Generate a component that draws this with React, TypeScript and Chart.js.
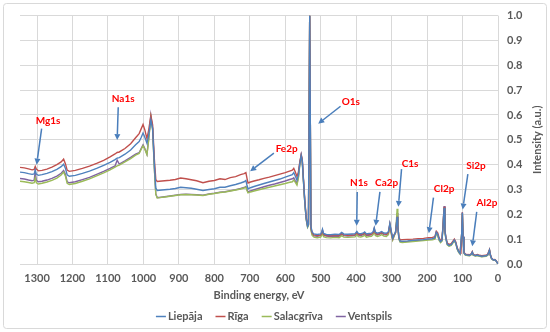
import React, { useEffect, useRef } from "react";
import { Chart, registerables } from "chart.js";

Chart.register(...registerables);

// ---- Data ----
const seriesNames = ["Liepāja", "Rīga", "Salacgrīva", "Ventspils"];
const seriesColors = ["#4f81bd", "#c0504d", "#9bbb59", "#8064a2"];

const xTickValues = [1300, 1200, 1100, 1000, 900, 800, 700, 600, 500, 400, 300, 200, 100, 0];

// Binding energy, eV (descending)
const bindingEnergy = [
  1348, 1336, 1324, 1314, 1308, 1305, 1302, 1296, 1286, 1272,
  1258, 1244, 1232, 1225, 1220, 1215, 1209, 1192, 1172, 1152,
  1132, 1112, 1094, 1080, 1074, 1068, 1052, 1036, 1022, 1012,
  1006, 1001, 996, 990, 985, 979, 974, 969, 965, 961,
  955, 940, 925, 910, 895, 880, 865, 850, 832, 815,
  800, 784, 770, 755, 740, 726, 716, 711, 708, 705,
  698, 688, 674, 660, 645, 630, 615, 600, 590, 580,
  576, 572, 567, 563, 559, 555, 552, 549, 545, 541,
  537, 534.5, 531, 527.5, 524, 519, 510, 500,
  497, 495, 492, 484, 472, 460, 448, 441, 435, 424,
  412, 403, 398, 394, 387, 381, 376, 371, 364, 357,
  352, 349, 346, 340, 333, 328, 322, 315, 309, 305,
  301, 297, 293, 289, 286.5, 284.5, 282.5, 279.5, 276, 270,
  255, 240, 225, 210, 196, 185, 178, 174, 170, 166,
  162, 158, 155, 152, 149.5, 147, 143, 138, 132, 127,
  123, 119, 115, 111, 107, 104.5, 102.5, 100.5, 98.5, 96,
  92, 86, 80, 75, 72.5, 70, 64, 58, 52, 46,
  40, 34, 29, 26, 24, 21.5, 18, 13, 9, 5,
  2, 0,
];

const liepaja = [
  .370, .368, .364, .361, .363, .378, .362, .357, .360, .365,
  .372, .381, .392, .402, .386, .359, .353, .357, .365, .374,
  .385, .397, .409, .420, .426, .428, .442, .459, .480, .493,
  .510, .527, .510, .486, .520, .580, .545, .400, .305, .296,
  .297, .299, .301, .304, .309, .307, .305, .301, .296, .300,
  .303, .309, .309, .315, .320, .326, .331, .336, .318, .302,
  .307, .312, .318, .324, .330, .336, .342, .350, .355, .360,
  .368, .355, .338, .358, .402, .436, .415, .345, .255, .185,
  .152, .160, 1.0, .150, .128, .121, .119, .121,
  .130, .140, .123, .119, .118, .120, .119, .127, .121, .120,
  .121, .122, .131, .123, .122, .124, .129, .121, .123, .124,
  .130, .146, .128, .124, .127, .131, .125, .124, .130, .163,
  .132, .104, .118, .128, .160, .190, .150, .105, .092, .092,
  .093, .095, .097, .098, .101, .102, .106, .128, .120, .100,
  .090, .096, .150, .226, .130, .104, .080, .075, .078, .088,
  .096, .085, .062, .050, .042, .042, .120, .206, .110, .045,
  .038, .036, .035, .040, .048, .037, .034, .036, .033, .031,
  .032, .033, .037, .048, .056, .036, .022, .016, .017, .012,
  .005, .001,
];

const riga = [
  .389, .387, .383, .379, .381, .393, .382, .375, .377, .382,
  .390, .400, .411, .422, .404, .378, .373, .377, .385, .394,
  .405, .417, .431, .443, .449, .451, .465, .484, .508, .525,
  .545, .562, .540, .505, .540, .597, .560, .420, .340, .332,
  .333, .335, .337, .340, .346, .343, .339, .335, .327, .333,
  .336, .343, .340, .348, .352, .360, .364, .368, .346, .326,
  .330, .334, .339, .345, .350, .356, .362, .368, .373, .378,
  .385, .372, .352, .370, .410, .440, .420, .350, .260, .190,
  .155, .160, 1.0, .145, .125, .117, .115, .117,
  .126, .136, .119, .115, .114, .116, .115, .123, .117, .116,
  .117, .118, .127, .119, .118, .120, .125, .117, .119, .120,
  .126, .142, .124, .120, .123, .127, .121, .120, .126, .160,
  .128, .102, .117, .127, .158, .190, .150, .108, .097, .098,
  .099, .100, .102, .103, .106, .107, .110, .132, .125, .105,
  .095, .100, .155, .230, .134, .108, .084, .079, .082, .092,
  .100, .089, .065, .053, .045, .044, .120, .207, .110, .047,
  .040, .038, .037, .042, .050, .039, .036, .038, .035, .033,
  .034, .035, .039, .050, .058, .038, .023, .017, .018, .013,
  .006, .002,
];

const salacgriva = [
  .333, .331, .328, .325, .327, .346, .327, .322, .325, .330,
  .337, .346, .358, .370, .354, .325, .320, .324, .333, .343,
  .355, .367, .379, .390, .395, .398, .411, .424, .438, .445,
  .462, .476, .462, .440, .500, .590, .540, .380, .280, .266,
  .267, .270, .273, .276, .279, .280, .279, .278, .276, .281,
  .284, .288, .290, .294, .298, .302, .306, .310, .296, .286,
  .290, .294, .299, .304, .309, .314, .319, .324, .328, .331,
  .338, .330, .318, .345, .398, .432, .410, .340, .250, .180,
  .148, .155, 1.0, .135, .115, .108, .106, .108,
  .117, .126, .110, .106, .105, .107, .106, .114, .108, .107,
  .108, .109, .118, .110, .109, .111, .116, .108, .110, .111,
  .118, .135, .115, .111, .114, .118, .112, .111, .118, .155,
  .120, .096, .112, .125, .170, .222, .160, .100, .088, .086,
  .088, .090, .092, .094, .096, .097, .100, .122, .114, .095,
  .086, .092, .148, .224, .127, .100, .077, .072, .075, .085,
  .093, .082, .059, .047, .040, .040, .118, .204, .108, .043,
  .036, .034, .033, .038, .046, .035, .032, .034, .031, .029,
  .030, .031, .035, .046, .054, .034, .021, .015, .016, .011,
  .004, .001,
];

const ventspils = [
  .344, .342, .338, .335, .338, .372, .337, .331, .333, .338,
  .345, .354, .365, .376, .361, .331, .327, .331, .340, .349,
  .361, .373, .385, .395, .418, .402, .415, .429, .442, .448,
  .466, .480, .465, .442, .505, .598, .545, .385, .282, .268,
  .268, .271, .274, .277, .280, .281, .280, .279, .277, .282,
  .285, .289, .291, .295, .299, .304, .308, .312, .300, .290,
  .294, .299, .305, .311, .317, .322, .328, .334, .339, .343,
  .347, .336, .324, .350, .405, .440, .418, .345, .252, .182,
  .150, .158, 1.0, .140, .120, .113, .112, .114,
  .123, .133, .116, .112, .111, .113, .112, .120, .114, .113,
  .114, .115, .124, .116, .115, .117, .122, .114, .116, .117,
  .123, .140, .121, .117, .120, .124, .118, .117, .124, .160,
  .126, .099, .115, .126, .163, .205, .155, .102, .090, .090,
  .091, .093, .095, .096, .099, .100, .104, .126, .118, .098,
  .089, .095, .153, .233, .131, .104, .079, .074, .077, .087,
  .095, .084, .061, .049, .041, .041, .120, .208, .110, .044,
  .037, .035, .034, .039, .047, .036, .033, .035, .032, .030,
  .031, .032, .036, .047, .055, .035, .022, .016, .017, .012,
  .005, .001,
];

const seriesValues = [liepaja, riga, salacgriva, ventspils];

// Peak labels: text anchor and arrow (tail -> head), in data coordinates (eV, intensity)
const peakLabels = ["Mg1s", "Na1s", "Fe2p", "O1s", "N1s", "Ca2p", "C1s", "Cl2p", "Si2p", "Al2p"];
const labelAnchor = [
  [1269, 0.575], [1057, 0.664], [596, 0.465], [415, 0.655], [392, 0.325],
  [314, 0.325], [248, 0.404], [152, 0.303], [62, 0.397], [31, 0.246],
];
const arrowTail = [
  [1287, 0.545], [1071, 0.631], [632, 0.446], [444, 0.635], [397, 0.29],
  [333, 0.29], [272, 0.382], [182, 0.267], [85, 0.362], [60, 0.21],
];
const arrowHead = [
  [1301, 0.40], [1074, 0.499], [699, 0.373], [507, 0.565], [398.5, 0.154],
  [345, 0.154], [281, 0.23], [195, 0.124], [99.5, 0.219], [72.5, 0.071],
];

const xTitle = "Binding energy, eV";
const yTitle = "Intensity (a.u.)";

const FONT = "Lato";
const GRAY = "#595959";

const decorPlugin = {
  id: "decor",
  beforeDraw(chart: any) {
    const ctx = chart.ctx;
    ctx.save();
    ctx.fillStyle = "#ffffff";
    ctx.fillRect(0, 0, chart.width, chart.height);
    ctx.strokeStyle = "#d9d9d9";
    ctx.lineWidth = 1;
    ctx.beginPath();
    if (ctx.roundRect) ctx.roundRect(3.5, 3.5, 543, 325, 3);
    else ctx.rect(3.5, 3.5, 543, 325);
    ctx.stroke();
    ctx.restore();
  },
  afterDraw(chart: any) {
    const ctx = chart.ctx;
    const xs = chart.scales.x;
    const ys = chart.scales.y;
    const area = chart.chartArea;
    ctx.save();
    // axis titles
    ctx.fillStyle = GRAY;
    ctx.font = `bold 11px ${FONT}`;
    ctx.textAlign = "center";
    ctx.textBaseline = "middle";
    ctx.fillText(xTitle, (area.left + area.right) / 2, 295);
    ctx.save();
    ctx.translate(537, (area.top + area.bottom) / 2);
    ctx.rotate(-Math.PI / 2);
    ctx.fillText(yTitle, 0, 0);
    ctx.restore();

    // legend
    ctx.font = `bold 11px ${FONT}`;
    const lineLen = 10, gapText = 2, gapItem = 13;
    const widths = seriesNames.map((n) => ctx.measureText(n).width);
    const total = widths.reduce((a, w) => a + lineLen + gapText + w, 0) + gapItem * (seriesNames.length - 1);
    let lx = 274 - total / 2;
    const ly = 316;
    ctx.textAlign = "left";
    seriesNames.forEach((n, i) => {
      ctx.strokeStyle = seriesColors[i];
      ctx.lineWidth = 1.5;
      ctx.beginPath();
      ctx.moveTo(lx, ly + 0.5);
      ctx.lineTo(lx + lineLen, ly + 0.5);
      ctx.stroke();
      ctx.fillStyle = GRAY;
      ctx.fillText(n, lx + lineLen + gapText, ly);
      lx += lineLen + gapText + widths[i] + gapItem;
    });

    // peak annotations
    peakLabels.forEach((t, i) => {
      const x1 = xs.getPixelForValue(arrowTail[i][0]);
      const y1 = ys.getPixelForValue(arrowTail[i][1]);
      const x2 = xs.getPixelForValue(arrowHead[i][0]);
      const y2 = ys.getPixelForValue(arrowHead[i][1]);
      const ang = Math.atan2(y2 - y1, x2 - x1);
      const hl = 6, hw = 3;
      const bx = x2 - hl * Math.cos(ang);
      const by = y2 - hl * Math.sin(ang);
      ctx.strokeStyle = "#4a7ebb";
      ctx.fillStyle = "#4a7ebb";
      ctx.lineWidth = 1.5;
      ctx.beginPath();
      ctx.moveTo(x1, y1);
      ctx.lineTo(bx, by);
      ctx.stroke();
      ctx.beginPath();
      ctx.moveTo(x2, y2);
      ctx.lineTo(bx + hw * Math.sin(ang), by - hw * Math.cos(ang));
      ctx.lineTo(bx - hw * Math.sin(ang), by + hw * Math.cos(ang));
      ctx.closePath();
      ctx.fill();

      ctx.fillStyle = "#ff0000";
      ctx.font = `bold 10px ${FONT}`;
      ctx.textAlign = "center";
      ctx.textBaseline = "middle";
      ctx.fillText(t, xs.getPixelForValue(labelAnchor[i][0]), ys.getPixelForValue(labelAnchor[i][1]));
    });
    ctx.restore();
  },
};

export default function App() {
  const ref = useRef<HTMLCanvasElement | null>(null);
  useEffect(() => {
    if (!ref.current) return;
    const datasets = seriesNames.map((name, s) => ({
      label: name,
      data: bindingEnergy.map((e, i) => ({ x: e, y: seriesValues[s][i] })),
      borderColor: seriesColors[s],
      backgroundColor: seriesColors[s],
      borderWidth: 1.4,
      pointRadius: 0,
      tension: 0,
      fill: false,
    }));
    const chart = new Chart(ref.current, {
      type: "line",
      data: { datasets },
      plugins: [decorPlugin],
      options: {
        animation: false,
        responsive: false,
        devicePixelRatio: 1,
        layout: { padding: { left: 20, top: 12, right: 0, bottom: 0 } },
        plugins: { legend: { display: false }, tooltip: { enabled: false } },
        scales: {
          x: {
            type: "linear",
            reverse: true,
            min: 0,
            max: 1348,
            afterBuildTicks: (s: any) => {
              s.ticks = xTickValues.map((v) => ({ value: v }));
            },
            afterFit: (s: any) => {
              s.height = 68;
            },
            ticks: {
              autoSkip: false,
              maxRotation: 0,
              padding: 8,
              color: GRAY,
              font: { family: FONT, size: 11, weight: "bold" },
              callback: (v: any) => String(v),
            },
            grid: { color: "#d9d9d9", drawTicks: false },
            border: { display: false },
          },
          y: {
            position: "right",
            min: 0,
            max: 1,
            afterFit: (s: any) => {
              s.width = 52;
            },
            ticks: {
              stepSize: 0.1,
              padding: 9,
              color: GRAY,
              font: { family: FONT, size: 11, weight: "bold" },
              callback: (v: any) => Number(v).toFixed(1),
            },
            grid: { color: "#d9d9d9", drawTicks: false },
            border: { display: false },
          },
        },
      } as any,
    });
    return () => chart.destroy();
  }, []);
  return (
    <div style={{ position: "absolute", left: 0, top: 0, width: 550, height: 332 }}>
      <canvas ref={ref} width={550} height={332} style={{ display: "block" }} />
    </div>
  );
}
